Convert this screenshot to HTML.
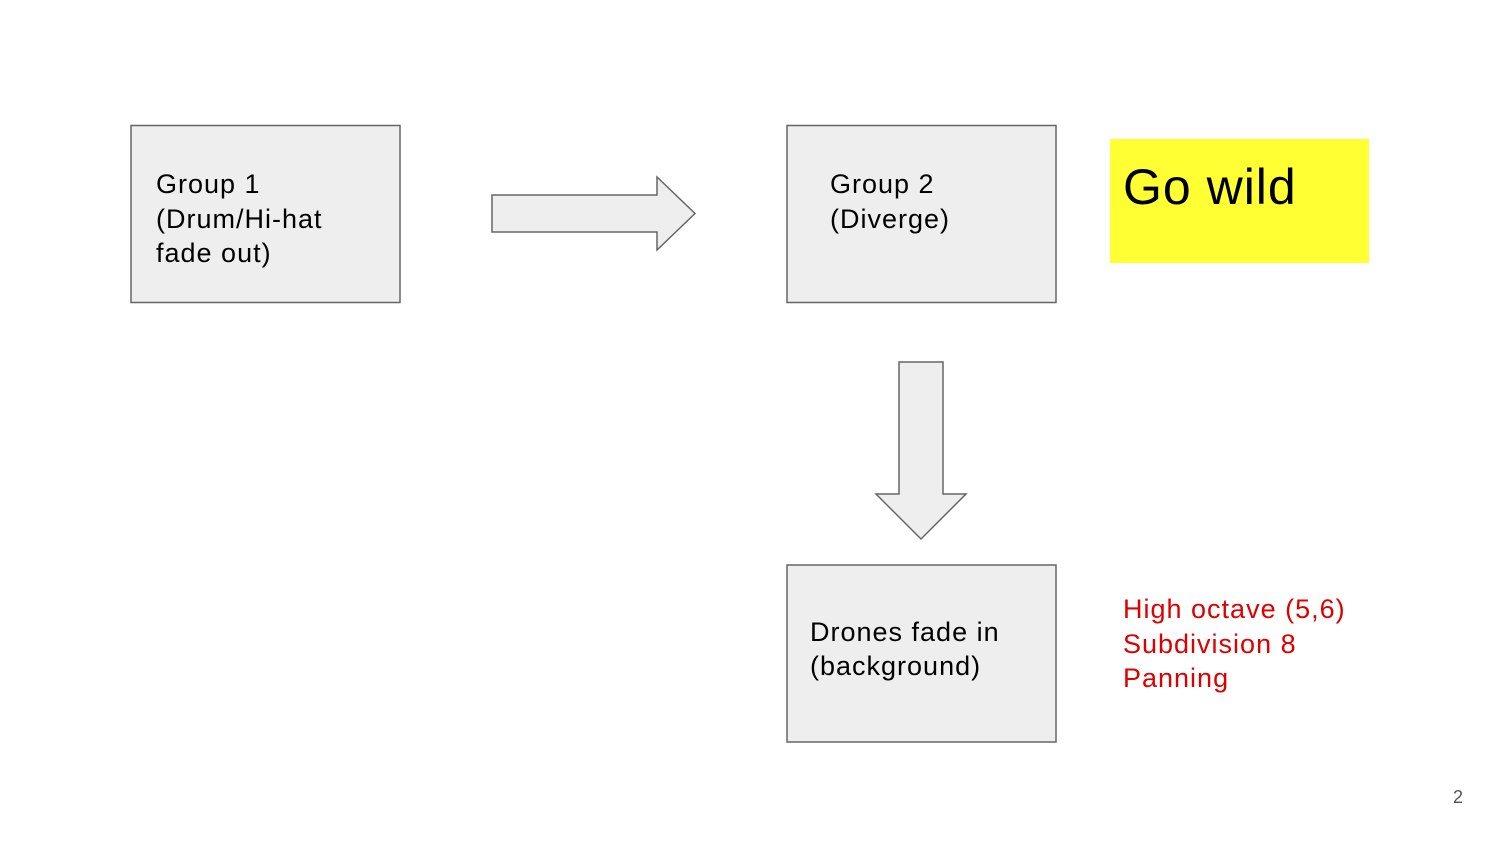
<!DOCTYPE html>
<html><head><style>body{margin:0;background:#fff}svg{display:block}text{font-family:"Liberation Sans",Arial,sans-serif;letter-spacing:1px}</style></head><body>
<svg width="1500" height="843" viewBox="0 0 1500 843">
<rect width="1500" height="843" fill="#fff"/>
<rect x="131" y="125.5" width="269" height="177" fill="#eeeeee" stroke="#666" stroke-width="1.5"/>
<rect x="787" y="125.5" width="269" height="177" fill="#eeeeee" stroke="#666" stroke-width="1.5"/>
<rect x="787" y="565" width="269" height="177" fill="#eeeeee" stroke="#666" stroke-width="1.5"/>
<rect x="1110" y="139" width="259" height="124" fill="#ffff33"/>
<polygon points="492,195 657,195 657,177 695,213.5 657,250 657,232 492,232" fill="#eeeeee" stroke="#666" stroke-width="1.5"/>
<polygon points="899,362 943,362 943,494 966,494 921,539 876,494 899,494" fill="#eeeeee" stroke="#666" stroke-width="1.5"/>
<g font-size="27" fill="#000">
<text x="156" y="193">Group 1</text>
<text x="156" y="228">(Drum/Hi-hat</text>
<text x="156" y="262">fade out)</text>
<text x="830" y="193">Group 2</text>
<text x="830" y="228">(Diverge)</text>
<text x="810" y="641">Drones fade in</text>
<text x="810" y="675">(background)</text>
</g>
<text x="1123" y="204" font-size="50">Go wild</text>
<g font-size="27" fill="#dd0000">
<text x="1123" y="618">High octave (5,6)</text>
<text x="1123" y="653">Subdivision 8</text>
<text x="1123" y="687">Panning</text>
</g>
<text x="1453" y="803" font-size="18" fill="#555" style="letter-spacing:0">2</text>
</svg>
</body></html>
